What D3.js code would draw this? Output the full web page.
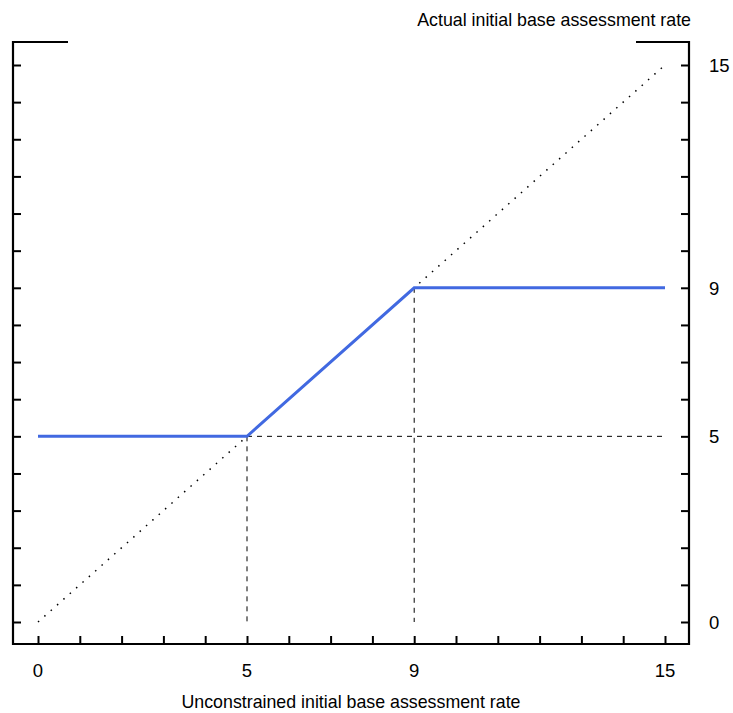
<!DOCTYPE html>
<html>
<head>
<meta charset="utf-8">
<script src="https://cdn.jsdelivr.net/npm/d3@7"></script>
<style>
  body { margin: 0; background: #fff; }
  text { font-family: "Liberation Sans", Arial, sans-serif; fill: #000; }
</style>
</head>
<body>
<div id="chart"></div>
<script>
const xTicks = [0, 1, 2, 3, 4, 5, 6, 7, 8, 9, 10, 11, 12, 13, 14, 15];
const xLabels = [0, 5, 9, 15];
const yTicks = [0, 1, 2, 3, 4, 5, 6, 7, 8, 9, 10, 11, 12, 13, 14, 15];
const yLabels = [0, 5, 9, 15];
const rateX = [0, 5, 9, 15];
const rateY = [5, 5, 9, 9];
const diagonal = [0, 15];
const floorRate = 5;
const capRate = 9;

const width = 733;
const height = 713;

const x = d3.scaleLinear().domain([0, 15]).range([38, 665]);
const y = d3.scaleLinear().domain([0, 15]).range([622, 65]);

const frameLeft = 13, frameRight = 689, frameTop = 42, frameBottom = 644;

const svg = d3.select('#chart')
  .append('svg')
  .attr('width', width)
  .attr('height', height);

// frame
svg.append('path')
  .attr('d', `M${frameLeft + 55},${frameTop} H${frameLeft} V${frameBottom} H${frameRight} V${frameTop} H${frameRight - 53}`)
  .attr('stroke', '#000')
  .attr('stroke-width', 2.2)
  .attr('fill', 'none');

// ticks
svg.append('g')
  .attr('transform', `translate(0,${frameBottom})`)
  .call(d3.axisBottom(x).tickValues(xTicks).tickSizeInner(-8).tickSizeOuter(0).tickFormat(''))
  .call(g => g.select('.domain').remove())
  .call(g => g.selectAll('line').attr('stroke-width', 2));

svg.append('g')
  .attr('transform', `translate(${frameLeft},0)`)
  .call(d3.axisLeft(y).tickValues(yTicks).tickSizeInner(-8).tickSizeOuter(0).tickFormat(''))
  .call(g => g.select('.domain').remove())
  .call(g => g.selectAll('line').attr('stroke-width', 2));

svg.append('g')
  .attr('transform', `translate(${frameRight},0)`)
  .call(d3.axisRight(y).tickValues(yTicks).tickSizeInner(-8).tickSizeOuter(0).tickFormat(''))
  .call(g => g.select('.domain').remove())
  .call(g => g.selectAll('line').attr('stroke-width', 2));

// tick labels
svg.append('g').selectAll('text')
  .data(xLabels)
  .join('text')
  .attr('x', d => x(d))
  .attr('y', 677)
  .attr('text-anchor', 'middle')
  .attr('font-size', 18.5)
  .text(d => d);

svg.append('g').selectAll('text')
  .data(yLabels)
  .join('text')
  .attr('x', 709)
  .attr('y', d => y(d) + 7)
  .attr('text-anchor', 'start')
  .attr('font-size', 18.5)
  .text(d => d);

// axis titles
svg.append('text')
  .attr('x', 691)
  .attr('y', 26)
  .attr('text-anchor', 'end')
  .attr('font-size', 17.8)
  .text('Actual initial base assessment rate');

svg.append('text')
  .attr('x', 351)
  .attr('y', 708)
  .attr('text-anchor', 'middle')
  .attr('font-size', 17.8)
  .text('Unconstrained initial base assessment rate');

// dotted 45-degree line
svg.append('line')
  .attr('x1', x(diagonal[0])).attr('y1', y(diagonal[0]))
  .attr('x2', x(diagonal[1])).attr('y2', y(diagonal[1]))
  .attr('stroke', '#000')
  .attr('stroke-width', 1.5)
  .attr('stroke-dasharray', '1.5 7');

// dashed guides
const guides = svg.append('g')
  .attr('stroke', '#000')
  .attr('stroke-width', 1)
  .attr('stroke-dasharray', '5 5');
guides.append('line')
  .attr('x1', x(floorRate)).attr('y1', y(floorRate))
  .attr('x2', x(floorRate)).attr('y2', y(0));
guides.append('line')
  .attr('x1', x(capRate)).attr('y1', y(capRate))
  .attr('x2', x(capRate)).attr('y2', y(0));
guides.append('line')
  .attr('x1', x(floorRate)).attr('y1', y(floorRate))
  .attr('x2', x(15)).attr('y2', y(floorRate));

// rate line
const line = d3.line()
  .x(d => x(d[0]))
  .y(d => y(d[1]));

svg.append('path')
  .datum(rateX.map((v, i) => [v, rateY[i]]))
  .attr('d', line)
  .attr('fill', 'none')
  .attr('stroke', '#4169e1')
  .attr('stroke-width', 3);
</script>
</body>
</html>
